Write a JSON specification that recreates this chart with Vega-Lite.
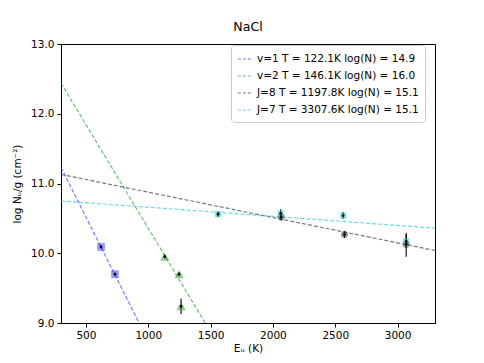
{
  "$schema": "https://vega.github.io/schema/vega-lite/v6.json",
  "width": 374,
  "height": 279,
  "autosize": "none",
  "padding": {"left": 61, "top": 44, "right": 49, "bottom": 40},
  "background": "white",
  "config": {
    "font": "DejaVu Sans",
    "view": {"stroke": "black", "strokeWidth": 1},
    "axis": {
      "grid": false,
      "domainColor": "black",
      "tickColor": "black",
      "tickSize": 4,
      "labelFontSize": 10.5,
      "labelColor": "black",
      "titleFontSize": 10.5,
      "titleFontWeight": "normal",
      "titleColor": "black",
      "labelPadding": 3
    }
  },
  "title": {"text": "NaCl", "fontSize": 12.6, "fontWeight": "normal", "offset": 5, "anchor": "middle", "color": "black"},
  "datasets": {
    "lines": [
      {"series": "v=1 T = 122.1K log(N) = 14.9", "E": 300, "y": 11.23},
      {"series": "v=1 T = 122.1K log(N) = 14.9", "E": 3300, "y": 0.56},
      {"series": "v=2 T = 146.1K log(N) = 16.0", "E": 300, "y": 12.44},
      {"series": "v=2 T = 146.1K log(N) = 16.0", "E": 3300, "y": 3.52},
      {"series": "J=8 T = 1197.8K log(N) = 15.1", "E": 300, "y": 11.13},
      {"series": "J=8 T = 1197.8K log(N) = 15.1", "E": 3300, "y": 10.04},
      {"series": "J=7 T = 3307.6K log(N) = 15.1", "E": 300, "y": 10.75},
      {"series": "J=7 T = 3307.6K log(N) = 15.1", "E": 3300, "y": 10.36}
    ],
    "points": [
      {"series": "v1", "E": 621, "y": 10.09, "lo": 10.07, "hi": 10.11},
      {"series": "v1", "E": 733, "y": 9.70, "lo": 9.68, "hi": 9.72},
      {"series": "v2", "E": 1132, "y": 9.95, "lo": 9.93, "hi": 9.97},
      {"series": "v2", "E": 1247, "y": 9.70, "lo": 9.67, "hi": 9.73},
      {"series": "v2", "E": 1263, "y": 9.24, "lo": 9.13, "hi": 9.35},
      {"series": "J8", "E": 2066, "y": 10.52, "lo": 10.47, "hi": 10.58},
      {"series": "J8", "E": 2574, "y": 10.27, "lo": 10.22, "hi": 10.32},
      {"series": "J8", "E": 3069, "y": 10.13, "lo": 9.95, "hi": 10.29},
      {"series": "J7", "E": 1560, "y": 10.56, "lo": 10.52, "hi": 10.60},
      {"series": "J7", "E": 2062, "y": 10.57, "lo": 10.50, "hi": 10.63},
      {"series": "J7", "E": 2563, "y": 10.54, "lo": 10.49, "hi": 10.59},
      {"series": "J7", "E": 3069, "y": 10.17, "lo": 10.07, "hi": 10.27}
    ]
  },
  "layer": [
    {
      "data": {"name": "lines"},
      "mark": {"type": "line", "clip": true, "strokeDash": [4, 2], "strokeWidth": 1.2, "opacity": 0.65},
      "encoding": {
        "x": {"field": "E", "type": "quantitative", "scale": {"domain": [300, 3300], "nice": false, "zero": false},
              "axis": {"title": "Eᵤ (K)", "values": [500, 1000, 1500, 2000, 2500, 3000], "format": "d", "titlePadding": 3}},
        "y": {"field": "y", "type": "quantitative", "scale": {"domain": [9, 13], "nice": false, "zero": false},
              "axis": {"title": "log Nᵤ/g (cm⁻²)", "values": [9, 9.5, 10, 10.5, 11, 11.5, 12, 12.5, 13], "format": ".1f", "titlePadding": 8}},
        "stroke": {
          "field": "series", "type": "nominal",
          "scale": {
            "domain": ["v=1 T = 122.1K log(N) = 14.9", "v=2 T = 146.1K log(N) = 16.0", "J=8 T = 1197.8K log(N) = 15.1", "J=7 T = 3307.6K log(N) = 15.1"],
            "range": ["#3333ff", "#22992a", "#333333", "#20c8c8"]
          },
          "legend": {
            "title": null,
            "orient": "none",
            "legendX": 170,
            "legendY": 1,
            "symbolType": "stroke",
            "symbolDash": [3, 2],
            "symbolStrokeWidth": 1.2,
            "symbolOpacity": 0.65,
            "symbolSize": 200,
            "labelFontSize": 10.5,
            "labelColor": "black",
            "labelLimit": 300,
            "fillColor": "white",
            "strokeColor": "#cccccc",
            "padding": 6,
            "rowPadding": 3,
            "cornerRadius": 3
          }
        }
      }
    },
    {
      "data": {"name": "points"},
      "mark": {"type": "rule", "color": "black", "strokeWidth": 1.1},
      "encoding": {
        "x": {"field": "E", "type": "quantitative"},
        "y": {"field": "lo", "type": "quantitative"},
        "y2": {"field": "hi"}
      }
    },
    {
      "data": {"name": "points"},
      "transform": [{"filter": "datum.series === 'v1'"}],
      "mark": {"type": "point", "shape": "square", "filled": true, "opacity": 0.5, "strokeWidth": 0, "size": 60, "color": "#3333ff"},
      "encoding": {
        "x": {"field": "E", "type": "quantitative"},
        "y": {"field": "y", "type": "quantitative"}
      }
    },
    {
      "data": {"name": "points"},
      "transform": [{"filter": "datum.series === 'v2'"}],
      "mark": {"type": "point", "shape": "triangle-up", "filled": true, "opacity": 0.5, "strokeWidth": 0, "size": 90, "color": "#22992a"},
      "encoding": {
        "x": {"field": "E", "type": "quantitative"},
        "y": {"field": "y", "type": "quantitative"}
      }
    },
    {
      "data": {"name": "points"},
      "transform": [{"filter": "datum.series === 'J8'"}],
      "mark": {"type": "point", "shape": "circle", "filled": true, "opacity": 0.5, "strokeWidth": 0, "size": 50, "color": "#333333"},
      "encoding": {
        "x": {"field": "E", "type": "quantitative"},
        "y": {"field": "y", "type": "quantitative"}
      }
    },
    {
      "data": {"name": "points"},
      "transform": [{"filter": "datum.series === 'J7'"}],
      "mark": {"type": "point", "shape": "square", "filled": true, "opacity": 0.5, "strokeWidth": 0, "size": 40, "color": "#20c8c8"},
      "encoding": {
        "x": {"field": "E", "type": "quantitative"},
        "y": {"field": "y", "type": "quantitative"}
      }
    },
    {
      "data": {"name": "points"},
      "mark": {"type": "point", "filled": true, "color": "black", "size": 8, "opacity": 1},
      "encoding": {
        "x": {"field": "E", "type": "quantitative"},
        "y": {"field": "y", "type": "quantitative"}
      }
    }
  ]
}
